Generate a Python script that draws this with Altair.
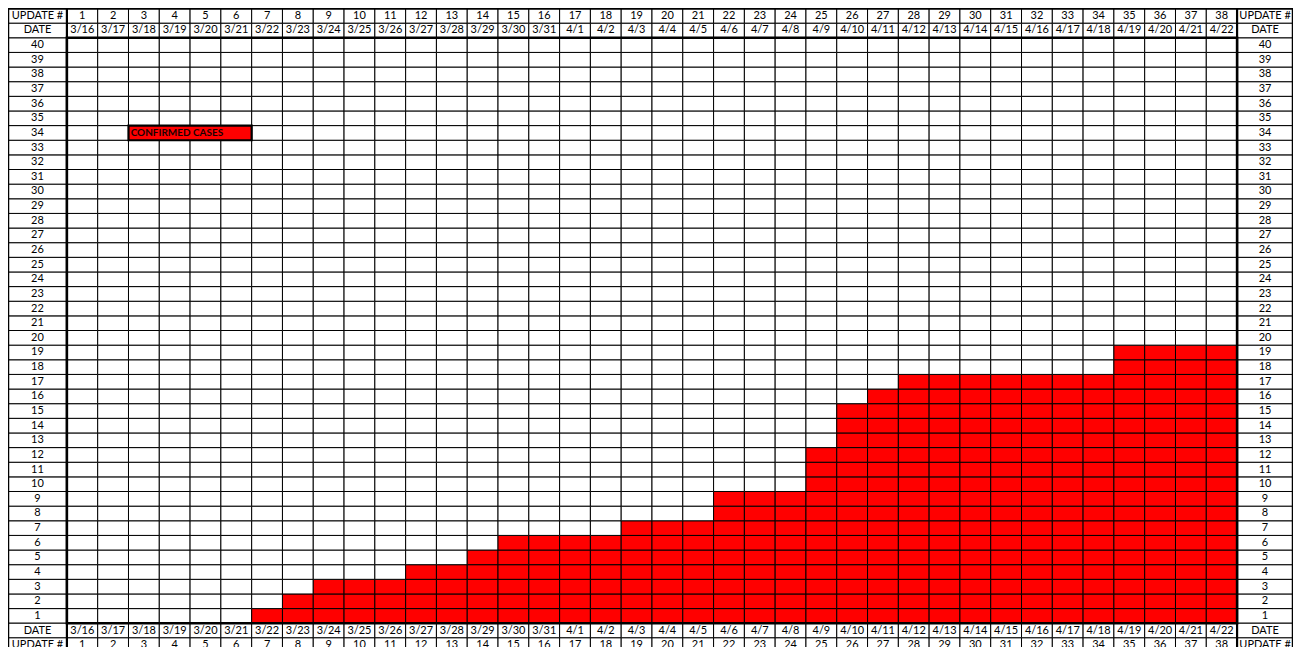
import altair as alt
import pandas as pd

# ---- data ----
updates = list(range(1, 39))
dates = ["3/16", "3/17", "3/18", "3/19", "3/20", "3/21", "3/22", "3/23", "3/24", "3/25",
         "3/26", "3/27", "3/28", "3/29", "3/30", "3/31", "4/1", "4/2", "4/3", "4/4",
         "4/5", "4/6", "4/7", "4/8", "4/9", "4/10", "4/11", "4/12", "4/13", "4/14",
         "4/15", "4/16", "4/17", "4/18", "4/19", "4/20", "4/21", "4/22"]
confirmed = [0, 0, 0, 0, 0, 0, 1, 2, 3, 3, 3, 4, 4, 5, 6, 6, 6, 6, 7, 7,
             7, 9, 9, 9, 12, 15, 16, 17, 17, 17, 17, 17, 17, 17, 19, 19, 19, 19]
row_labels = list(range(1, 41))
header_update = "UPDATE #"
header_date = "DATE"
legend_label = "CONFIRMED CASES"

# ---- layout (column / row units) ----
N = len(updates)
R = len(row_labels)
LW = 1.913   # left label column width
RW = 1.816   # right label column width
FONT = "Lato"

# data cells
cells = []
for i, v in zip(updates, confirmed):
    for r in row_labels:
        cells.append(dict(x=i - 1, x2=i, y=r - 1, y2=r,
                          state="filled" if r <= v else "empty"))
cells = pd.DataFrame(cells)

# frame cells (label columns and header rows)
head_rows = [(R, R + 1), (R + 1, R + 2), (-1, 0), (-2, -1)]
frame = []
for (x0, x1) in [(-LW, 0), (N, N + RW)]:
    for r in row_labels:
        frame.append(dict(x=x0, x2=x1, y=r - 1, y2=r))
    for (y0, y1) in head_rows:
        frame.append(dict(x=x0, x2=x1, y=y0, y2=y1))
for i in updates:
    for (y0, y1) in head_rows:
        frame.append(dict(x=i - 1, x2=i, y=y0, y2=y1))
frame = pd.DataFrame(frame)

# texts
texts = []
for xc in [-LW / 2, N + RW / 2]:
    for r in row_labels:
        texts.append(dict(x=xc, y=r - 0.5, t=str(r)))
    texts.append(dict(x=xc, y=R + 1.5, t=header_update))
    texts.append(dict(x=xc, y=R + 0.5, t=header_date))
    texts.append(dict(x=xc, y=-0.5, t=header_date))
    texts.append(dict(x=xc, y=-1.5, t=header_update))
for i, d in zip(updates, dates):
    texts.append(dict(x=i - 0.5, y=R + 1.5, t=str(i)))
    texts.append(dict(x=i - 0.5, y=R + 0.5, t=d))
    texts.append(dict(x=i - 0.5, y=-0.5, t=d))
    texts.append(dict(x=i - 0.5, y=-1.5, t=str(i)))
texts = pd.DataFrame(texts)

legend_box = pd.DataFrame([dict(x=2, x2=6, y=33, y2=34, t=legend_label, tx=2.07, ty=33.5)])

thick_boxes = pd.DataFrame([
    dict(x=-LW, x2=N + RW, y=-2, y2=R + 2),
    dict(x=0, x2=N, y=0, y2=R),
])
thick_vlines = pd.DataFrame([dict(x=0, y=-2, y2=R + 2), dict(x=N, y=-2, y2=R + 2)])

xs = alt.Scale(domain=[-LW, N + RW], nice=False, zero=False)
ys = alt.Scale(domain=[-2, R + 2], nice=False, zero=False)
X = alt.X("x:Q", scale=xs, axis=None)
Y = alt.Y("y:Q", scale=ys, axis=None)

cell_layer = alt.Chart(cells).mark_rect(stroke="#000000", strokeWidth=1).encode(
    x=X, x2="x2:Q", y=Y, y2="y2:Q",
    color=alt.Color("state:N", scale=alt.Scale(domain=["filled", "empty"],
                                               range=["#FF0000", "#FFFFFF"]), legend=None),
)

frame_layer = alt.Chart(frame).mark_rect(fill="#FFFFFF", stroke="#000000", strokeWidth=1).encode(
    x=X, x2="x2:Q", y=Y, y2="y2:Q"
)

legend_rect = alt.Chart(legend_box).mark_rect(fill="#FF0000", stroke="#000000", strokeWidth=2.2).encode(
    x=X, x2="x2:Q", y=Y, y2="y2:Q"
)
legend_text = alt.Chart(legend_box).mark_text(
    align="left", baseline="middle", font=FONT, fontSize=10, fontWeight="bold", color="#1a0000"
).encode(x=alt.X("tx:Q", scale=xs, axis=None), y=alt.Y("ty:Q", scale=ys, axis=None), text="t:N")

thick_layer = alt.Chart(thick_boxes).mark_rect(filled=False, stroke="#000000", strokeWidth=2.5).encode(
    x=X, x2="x2:Q", y=Y, y2="y2:Q"
)
vline_layer = alt.Chart(thick_vlines).mark_rule(stroke="#000000", strokeWidth=2.2).encode(
    x=X, y=Y, y2="y2:Q"
)

text_layer = alt.Chart(texts).mark_text(
    align="center", baseline="middle", font=FONT, fontSize=11, color="#000000"
).encode(x=X, y=Y, text="t:N")

chart = alt.layer(
    cell_layer, frame_layer, legend_rect, vline_layer, thick_layer, text_layer, legend_text
).properties(
    width=1287, height=645, padding=0,
    autosize=alt.AutoSizeParams(type="none"),
).configure_view(stroke=None).configure(background="#FFFFFF")

chart.save("out.html", embed_options={"renderer": "svg", "actions": False})
